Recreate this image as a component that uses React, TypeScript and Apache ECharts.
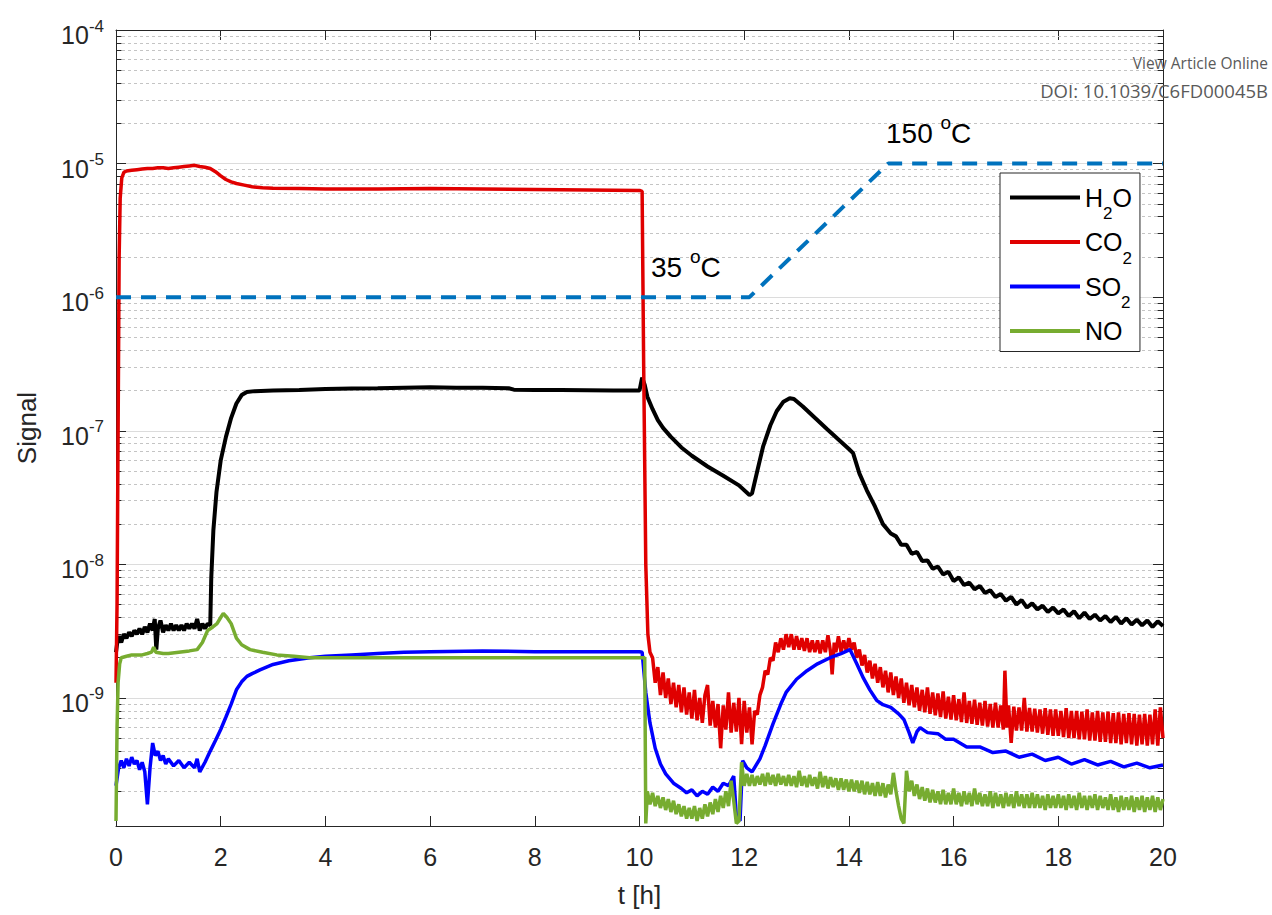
import React, { useEffect, useRef } from "react";
import * as echarts from "echarts";

const FONT = "'Liberation Sans', Arial, Helvetica, sans-serif";
const AXIS_COLOR = "#262626";

// ---- axis settings ----
const X_MIN = 0;
const X_MAX = 20;
const X_INTERVAL = 2;
const Y_MIN = 1.1e-10;
const Y_MAX = 1e-4;

// ---- data: [t (h), signal] ----
const h2o: number[][] = [
  [0, 2.2e-9], [0.03, 2.7e-9], [0.06, 2.9e-9], [0.1, 2.6e-9], [0.15, 3.0e-9], [0.2, 2.8e-9],
  [0.25, 3.1e-9], [0.3, 2.9e-9], [0.35, 3.2e-9], [0.4, 3.0e-9], [0.45, 3.3e-9], [0.5, 3.0e-9],
  [0.55, 3.4e-9], [0.6, 3.1e-9], [0.65, 3.6e-9], [0.7, 3.2e-9], [0.74, 3.9e-9], [0.77, 2.3e-9],
  [0.8, 3.3e-9], [0.85, 3.8e-9], [0.9, 3.1e-9], [0.95, 3.5e-9], [1.0, 3.2e-9], [1.05, 3.6e-9],
  [1.1, 3.2e-9], [1.15, 3.5e-9], [1.2, 3.2e-9], [1.25, 3.5e-9], [1.3, 3.2e-9], [1.35, 3.6e-9],
  [1.4, 3.3e-9], [1.45, 3.6e-9], [1.5, 3.3e-9], [1.55, 3.9e-9], [1.6, 3.2e-9], [1.65, 3.6e-9],
  [1.7, 3.3e-9], [1.75, 3.6e-9], [1.8, 3.5e-9], [1.82, 8e-9], [1.86, 1.8e-8], [1.92, 3.5e-8],
  [2.0, 6e-8], [2.1, 9e-8], [2.2, 1.25e-7], [2.3, 1.6e-7], [2.4, 1.85e-7], [2.5, 1.95e-7],
  [2.65, 1.98e-7], [3.0, 2.0e-7], [3.5, 2.02e-7], [4.0, 2.05e-7], [4.5, 2.07e-7], [5.0, 2.08e-7],
  [5.5, 2.1e-7], [6.0, 2.12e-7], [6.5, 2.1e-7], [7.0, 2.1e-7], [7.5, 2.08e-7], [7.6, 2.03e-7],
  [8.0, 2.02e-7], [8.5, 2.02e-7], [9.0, 2.01e-7], [9.5, 2.0e-7], [10.0, 2.0e-7], [10.05, 2.5e-7],
  [10.1, 2.2e-7], [10.15, 1.8e-7], [10.25, 1.45e-7], [10.35, 1.2e-7], [10.45, 1.05e-7], [10.6, 9e-8],
  [10.8, 7.5e-8], [11.0, 6.5e-8], [11.3, 5.4e-8], [11.6, 4.6e-8], [11.9, 3.9e-8], [12.1, 3.3e-8],
  [12.15, 3.4e-8], [12.25, 5e-8], [12.36, 7.6e-8], [12.5, 1.1e-7], [12.62, 1.4e-7], [12.75, 1.65e-7],
  [12.87, 1.75e-7], [12.95, 1.73e-7], [13.12, 1.52e-7], [13.35, 1.25e-7], [13.58, 1.03e-7], [13.8, 8.6e-8],
  [14.0, 7.3e-8], [14.08, 6.8e-8], [14.2, 4.8e-8], [14.34, 3.6e-8], [14.5, 2.7e-8], [14.65, 2.0e-8],
  [14.8, 1.7e-8], [14.9, 1.62e-8], [15.0, 1.4e-8], [15.1, 1.4e-8], [15.2, 1.2e-8], [15.3, 1.24e-8],
  [15.4, 1.06e-8], [15.5, 1.07e-8], [15.6, 9.3e-9], [15.7, 9.6e-9], [15.8, 8.4e-9], [15.9, 8.8e-9],
  [16.0, 7.5e-9], [16.1, 8.0e-9], [16.2, 7.0e-9], [16.3, 7.3e-9], [16.4, 6.5e-9], [16.5, 6.9e-9],
  [16.6, 6.1e-9], [16.7, 6.4e-9], [16.8, 5.7e-9], [16.9, 6.0e-9], [17.0, 5.35e-9], [17.1, 5.7e-9],
  [17.2, 5.0e-9], [17.3, 5.4e-9], [17.4, 4.75e-9], [17.5, 5.1e-9], [17.6, 4.6e-9], [17.7, 4.9e-9],
  [17.8, 4.4e-9], [17.9, 4.75e-9], [18.0, 4.3e-9], [18.1, 4.6e-9], [18.2, 4.1e-9], [18.3, 4.45e-9],
  [18.4, 3.95e-9], [18.5, 4.35e-9], [18.6, 3.9e-9], [18.7, 4.2e-9], [18.8, 3.8e-9], [18.9, 4.1e-9],
  [19.0, 3.7e-9], [19.1, 4.05e-9], [19.2, 3.6e-9], [19.3, 3.95e-9], [19.4, 3.55e-9], [19.5, 3.85e-9],
  [19.6, 3.5e-9], [19.7, 3.8e-9], [19.8, 3.4e-9], [19.9, 3.75e-9], [20.0, 3.45e-9],
];

const co2: number[][] = [
  [0, 1.3e-9], [0.02, 5e-9], [0.04, 1e-7], [0.06, 2e-6], [0.08, 5.5e-6], [0.11, 7.8e-6],
  [0.15, 8.6e-6], [0.2, 8.8e-6], [0.3, 8.9e-6], [0.4, 9.0e-6], [0.5, 9.1e-6], [0.6, 9.2e-6],
  [0.7, 9.2e-6], [0.8, 9.3e-6], [0.9, 9.3e-6], [1.0, 9.2e-6], [1.1, 9.3e-6], [1.2, 9.4e-6],
  [1.3, 9.5e-6], [1.4, 9.6e-6], [1.5, 9.7e-6], [1.6, 9.5e-6], [1.7, 9.4e-6], [1.8, 9.2e-6],
  [1.9, 8.7e-6], [2.0, 8.1e-6], [2.1, 7.6e-6], [2.2, 7.3e-6], [2.3, 7.1e-6], [2.45, 6.9e-6],
  [2.6, 6.7e-6], [2.8, 6.6e-6], [3.0, 6.55e-6], [3.5, 6.5e-6], [4, 6.45e-6], [5, 6.45e-6],
  [6, 6.5e-6], [7, 6.45e-6], [8, 6.4e-6], [9, 6.35e-6], [10, 6.3e-6], [10.05, 6.2e-6],
  [10.08, 3e-7], [10.12, 1e-8], [10.16, 3e-9], [10.2, 2.2e-9],
  [10.25, 2.0e-9], [10.3, 1.3e-9], [10.35, 1.7e-9], [10.4, 1.05e-9], [10.45, 1.55e-9], [10.5, 1.0e-9],
  [10.55, 1.4e-9], [10.6, 0.9e-9], [10.65, 1.3e-9], [10.7, 0.85e-9], [10.75, 1.25e-9], [10.8, 0.78e-9],
  [10.85, 1.2e-9], [10.9, 0.75e-9], [10.95, 1.1e-9], [11.0, 0.7e-9], [11.05, 1.15e-9], [11.1, 0.68e-9],
  [11.15, 1.0e-9], [11.2, 0.65e-9], [11.25, 1.05e-9], [11.3, 1.25e-9], [11.35, 0.62e-9], [11.4, 0.95e-9],
  [11.45, 0.6e-9], [11.5, 0.9e-9], [11.55, 0.42e-9], [11.6, 0.88e-9], [11.65, 0.58e-9], [11.7, 1.1e-9],
  [11.75, 0.55e-9], [11.8, 0.92e-9], [11.85, 0.56e-9], [11.9, 1.0e-9], [11.95, 0.45e-9], [12.0, 0.95e-9],
  [12.05, 0.55e-9], [12.1, 0.85e-9], [12.15, 0.45e-9], [12.2, 0.8e-9], [12.25, 0.75e-9], [12.3, 1.05e-9],
  [12.35, 1.2e-9], [12.4, 1.6e-9], [12.45, 1.5e-9], [12.5, 2.0e-9], [12.55, 1.9e-9], [12.6, 2.6e-9],
  [12.65, 2.2e-9], [12.7, 2.8e-9], [12.75, 2.3e-9], [12.8, 3.0e-9], [12.85, 2.4e-9], [12.9, 3.0e-9],
  [12.95, 2.3e-9], [13.0, 2.9e-9], [13.05, 2.3e-9], [13.1, 2.8e-9], [13.15, 2.25e-9], [13.2, 2.8e-9],
  [13.25, 2.2e-9], [13.3, 2.7e-9], [13.35, 2.2e-9], [13.4, 2.7e-9], [13.45, 2.15e-9], [13.5, 2.7e-9],
  [13.55, 2.2e-9], [13.6, 2.95e-9], [13.65, 2.2e-9], [13.68, 1.5e-9], [13.72, 2.6e-9], [13.75, 2.2e-9],
  [13.8, 2.9e-9], [13.85, 2.2e-9], [13.9, 2.7e-9], [13.95, 2.25e-9], [14.0, 2.8e-9], [14.05, 2.3e-9],
  [14.1, 2.6e-9], [14.15, 2.0e-9], [14.2, 2.3e-9], [14.25, 1.75e-9], [14.3, 2.1e-9], [14.35, 1.55e-9],
  [14.4, 1.9e-9], [14.45, 1.4e-9], [14.5, 1.8e-9], [14.55, 1.3e-9], [14.6, 1.7e-9], [14.65, 1.2e-9],
  [14.7, 1.6e-9], [14.75, 1.1e-9], [14.8, 1.55e-9], [14.85, 1.05e-9], [14.9, 1.45e-9], [14.95, 1.0e-9],
  [15.0, 1.4e-9], [15.05, 0.92e-9], [15.1, 1.3e-9], [15.15, 0.88e-9], [15.2, 1.25e-9], [15.25, 0.85e-9],
  [15.3, 1.2e-9], [15.35, 0.8e-9], [15.4, 1.15e-9], [15.45, 0.78e-9], [15.5, 1.2e-9], [15.55, 0.76e-9],
  [15.6, 1.1e-9], [15.65, 0.74e-9], [15.7, 1.08e-9], [15.75, 0.72e-9], [15.8, 1.12e-9], [15.85, 0.7e-9],
  [15.9, 1.02e-9], [15.95, 0.69e-9], [16.0, 1.05e-9], [16.05, 0.68e-9], [16.1, 0.98e-9], [16.15, 0.66e-9],
  [16.2, 1.1e-9], [16.25, 0.65e-9], [16.3, 0.95e-9], [16.35, 0.64e-9], [16.4, 0.97e-9], [16.45, 0.63e-9],
  [16.5, 0.92e-9], [16.55, 0.62e-9], [16.6, 0.95e-9], [16.65, 0.61e-9], [16.7, 0.9e-9], [16.75, 0.6e-9],
  [16.8, 0.92e-9], [16.85, 0.6e-9], [16.9, 0.88e-9], [16.95, 0.58e-9], [16.98, 1.6e-9], [17.02, 0.6e-9],
  [17.05, 0.88e-9], [17.1, 0.46e-9], [17.15, 0.86e-9], [17.2, 0.57e-9], [17.25, 0.85e-9], [17.3, 0.57e-9],
  [17.35, 1.0e-9], [17.4, 0.56e-9], [17.45, 0.84e-9], [17.5, 0.56e-9], [17.55, 0.83e-9], [17.6, 0.55e-9],
  [17.65, 0.82e-9], [17.7, 0.54e-9], [17.75, 0.84e-9], [17.8, 0.53e-9], [17.85, 0.82e-9], [17.9, 0.52e-9],
  [17.95, 0.82e-9], [18.0, 0.52e-9], [18.05, 0.8e-9], [18.1, 0.51e-9], [18.15, 0.84e-9], [18.2, 0.5e-9],
  [18.25, 0.8e-9], [18.3, 0.5e-9], [18.35, 0.8e-9], [18.4, 0.49e-9], [18.45, 0.79e-9], [18.5, 0.49e-9],
  [18.55, 0.82e-9], [18.6, 0.48e-9], [18.65, 0.78e-9], [18.7, 0.48e-9], [18.75, 0.8e-9], [18.8, 0.47e-9],
  [18.85, 0.78e-9], [18.9, 0.47e-9], [18.95, 0.79e-9], [19.0, 0.46e-9], [19.05, 0.77e-9], [19.1, 0.46e-9],
  [19.15, 0.78e-9], [19.2, 0.45e-9], [19.25, 0.76e-9], [19.3, 0.46e-9], [19.35, 0.77e-9], [19.4, 0.45e-9],
  [19.45, 0.76e-9], [19.5, 0.44e-9], [19.55, 0.75e-9], [19.6, 0.45e-9], [19.65, 0.76e-9], [19.7, 0.44e-9],
  [19.75, 0.75e-9], [19.8, 0.45e-9], [19.85, 0.82e-9], [19.9, 0.44e-9], [19.95, 0.85e-9], [20.0, 0.5e-9],
];

const so2: number[][] = [
  [0, 2.2e-10], [0.05, 3.0e-10], [0.1, 3.4e-10], [0.15, 3.0e-10], [0.2, 3.5e-10], [0.25, 3.1e-10],
  [0.3, 3.6e-10], [0.35, 3.2e-10], [0.4, 3.4e-10], [0.45, 2.9e-10], [0.5, 3.3e-10], [0.55, 2.8e-10],
  [0.6, 1.6e-10], [0.65, 3.0e-10], [0.7, 4.6e-10], [0.75, 3.7e-10], [0.8, 4.0e-10], [0.85, 3.4e-10],
  [0.9, 3.7e-10], [0.95, 3.2e-10], [1.0, 3.5e-10], [1.1, 3.1e-10], [1.2, 3.4e-10], [1.3, 3.0e-10],
  [1.4, 3.3e-10], [1.5, 3.0e-10], [1.55, 3.5e-10], [1.6, 2.8e-10], [1.7, 3.3e-10], [1.8, 4.0e-10],
  [1.9, 4.8e-10], [2.0, 5.8e-10], [2.1, 7.2e-10], [2.2, 9.0e-10], [2.3, 1.15e-9], [2.4, 1.32e-9],
  [2.5, 1.45e-9], [2.6, 1.52e-9], [2.75, 1.62e-9], [3.0, 1.78e-9], [3.3, 1.9e-9], [3.7, 2.0e-9],
  [4.0, 2.05e-9], [4.5, 2.1e-9], [5.0, 2.15e-9], [5.5, 2.2e-9], [6.0, 2.22e-9], [7.0, 2.25e-9],
  [8.0, 2.22e-9], [9.0, 2.22e-9], [10.0, 2.22e-9], [10.05, 2.2e-9], [10.12, 1.1e-9], [10.2, 6.5e-10],
  [10.3, 4.2e-10], [10.4, 3.2e-10], [10.5, 2.7e-10], [10.65, 2.3e-10], [10.8, 2.1e-10], [10.9, 1.95e-10],
  [11.0, 2.05e-10], [11.1, 1.85e-10], [11.2, 2.0e-10], [11.3, 1.9e-10], [11.4, 2.15e-10], [11.5, 2.0e-10],
  [11.6, 2.3e-10], [11.7, 2.2e-10], [11.8, 2.6e-10], [11.85, 1.3e-10], [11.92, 1.2e-10], [11.97, 3.4e-10],
  [12.05, 3.0e-10], [12.15, 2.8e-10], [12.3, 3.5e-10], [12.4, 4.4e-10], [12.55, 6.4e-10], [12.7, 9e-10],
  [12.8, 1.1e-9], [13.0, 1.38e-9], [13.2, 1.6e-9], [13.4, 1.8e-9], [13.64, 2.0e-9], [13.85, 2.15e-9],
  [14.02, 2.3e-9], [14.15, 1.8e-9], [14.28, 1.4e-9], [14.4, 1.15e-9], [14.53, 9.6e-10], [14.65, 8.9e-10],
  [14.8, 8.5e-10], [14.95, 7.6e-10], [15.05, 6.9e-10], [15.15, 5.5e-10], [15.22, 4.6e-10], [15.3, 5.6e-10],
  [15.36, 6.0e-10], [15.5, 5.5e-10], [15.7, 5.4e-10], [15.85, 4.9e-10], [16.0, 4.9e-10], [16.25, 4.3e-10],
  [16.5, 4.3e-10], [16.75, 3.9e-10], [17.0, 4.0e-10], [17.25, 3.6e-10], [17.5, 3.8e-10], [17.75, 3.4e-10],
  [18.0, 3.6e-10], [18.25, 3.2e-10], [18.5, 3.45e-10], [18.75, 3.15e-10], [19.0, 3.35e-10], [19.25, 3.05e-10],
  [19.5, 3.25e-10], [19.75, 3.0e-10], [20.0, 3.15e-10],
];

const no: number[][] = [
  [0, 1.2e-10], [0.02, 6e-10], [0.04, 1.3e-9], [0.07, 1.8e-9], [0.1, 2.0e-9], [0.2, 2.05e-9],
  [0.3, 2.1e-9], [0.4, 2.1e-9], [0.5, 2.1e-9], [0.6, 2.15e-9], [0.68, 2.2e-9], [0.72, 2.4e-9],
  [0.76, 2.2e-9], [0.9, 2.15e-9], [1.0, 2.15e-9], [1.2, 2.2e-9], [1.4, 2.25e-9], [1.55, 2.3e-9],
  [1.65, 2.6e-9], [1.75, 3.2e-9], [1.85, 3.4e-9], [1.93, 3.6e-9], [2.0, 4.0e-9], [2.05, 4.3e-9],
  [2.12, 4.0e-9], [2.2, 3.6e-9], [2.3, 2.8e-9], [2.4, 2.5e-9], [2.56, 2.3e-9], [2.8, 2.2e-9],
  [3.07, 2.1e-9], [3.4, 2.05e-9], [3.7, 2.0e-9], [5, 2.0e-9], [7, 2.0e-9], [10.1, 2.0e-9],
  [10.12, 1.15e-10], [10.15, 2.0e-10], [10.2, 1.6e-10], [10.25, 1.95e-10], [10.3, 1.55e-10], [10.35, 1.85e-10],
  [10.4, 1.5e-10], [10.45, 1.8e-10], [10.5, 1.45e-10], [10.55, 1.75e-10], [10.6, 1.4e-10], [10.65, 1.7e-10],
  [10.7, 1.35e-10], [10.75, 1.6e-10], [10.8, 1.3e-10], [10.85, 1.55e-10], [10.9, 1.25e-10], [10.95, 1.5e-10],
  [11.0, 1.25e-10], [11.05, 1.55e-10], [11.1, 1.2e-10], [11.15, 1.5e-10], [11.2, 1.25e-10], [11.25, 1.6e-10],
  [11.3, 1.3e-10], [11.35, 1.65e-10], [11.4, 1.35e-10], [11.45, 1.75e-10], [11.5, 1.4e-10], [11.55, 1.85e-10],
  [11.6, 1.5e-10], [11.65, 2.0e-10], [11.7, 1.55e-10], [11.75, 2.4e-10], [11.8, 1.7e-10], [11.85, 1.15e-10],
  [11.9, 1.2e-10], [11.95, 3.3e-10], [12.0, 2.2e-10], [12.05, 2.7e-10], [12.1, 2.2e-10], [12.15, 2.65e-10],
  [12.2, 2.2e-10], [12.25, 2.6e-10], [12.3, 2.25e-10], [12.35, 2.7e-10], [12.4, 2.2e-10], [12.45, 2.75e-10],
  [12.5, 2.25e-10], [12.55, 2.65e-10], [12.6, 2.2e-10], [12.65, 2.7e-10], [12.7, 2.25e-10], [12.75, 2.6e-10],
  [12.8, 2.2e-10], [12.85, 2.65e-10], [12.9, 2.2e-10], [12.95, 2.6e-10], [13.0, 2.15e-10], [13.05, 2.85e-10],
  [13.1, 2.2e-10], [13.15, 2.6e-10], [13.2, 2.15e-10], [13.25, 2.65e-10], [13.3, 2.2e-10], [13.35, 2.55e-10],
  [13.4, 2.1e-10], [13.45, 2.8e-10], [13.5, 2.15e-10], [13.55, 2.6e-10], [13.6, 2.1e-10], [13.65, 2.55e-10],
  [13.7, 2.15e-10], [13.75, 2.5e-10], [13.8, 2.05e-10], [13.85, 2.5e-10], [13.9, 2.05e-10], [13.95, 2.45e-10],
  [14.0, 2.0e-10], [14.05, 2.45e-10], [14.1, 2.0e-10], [14.15, 2.4e-10], [14.2, 1.95e-10], [14.25, 2.4e-10],
  [14.3, 1.9e-10], [14.35, 2.35e-10], [14.4, 1.9e-10], [14.45, 2.3e-10], [14.5, 1.85e-10], [14.55, 2.35e-10],
  [14.6, 1.85e-10], [14.65, 2.3e-10], [14.7, 1.8e-10], [14.75, 2.25e-10], [14.8, 1.9e-10], [14.85, 2.75e-10],
  [14.9, 2.0e-10], [14.95, 1.55e-10], [15.0, 1.25e-10], [15.05, 1.15e-10], [15.1, 2.85e-10], [15.15, 2.0e-10],
  [15.2, 2.4e-10], [15.25, 1.85e-10], [15.3, 2.25e-10], [15.35, 1.75e-10], [15.4, 2.15e-10], [15.45, 1.7e-10],
  [15.5, 2.1e-10], [15.55, 1.65e-10], [15.6, 2.05e-10], [15.65, 1.65e-10], [15.7, 2.0e-10], [15.75, 1.6e-10],
  [15.8, 2.05e-10], [15.85, 1.6e-10], [15.9, 1.95e-10], [15.95, 1.6e-10], [16.0, 2.1e-10], [16.05, 1.6e-10],
  [16.1, 1.95e-10], [16.15, 1.55e-10], [16.2, 2.0e-10], [16.25, 1.6e-10], [16.3, 1.95e-10], [16.35, 1.55e-10],
  [16.4, 2.1e-10], [16.45, 1.6e-10], [16.5, 1.95e-10], [16.55, 1.55e-10], [16.6, 1.9e-10], [16.65, 1.55e-10],
  [16.7, 2.0e-10], [16.75, 1.5e-10], [16.8, 1.95e-10], [16.85, 1.55e-10], [16.9, 1.9e-10], [16.95, 1.5e-10],
  [17.0, 1.95e-10], [17.05, 1.55e-10], [17.1, 1.9e-10], [17.15, 1.5e-10], [17.2, 2.0e-10], [17.25, 1.55e-10],
  [17.3, 1.9e-10], [17.35, 1.5e-10], [17.4, 1.9e-10], [17.45, 1.5e-10], [17.5, 1.95e-10], [17.55, 1.5e-10],
  [17.6, 1.9e-10], [17.65, 1.5e-10], [17.7, 1.85e-10], [17.75, 1.45e-10], [17.8, 1.9e-10], [17.85, 1.5e-10],
  [17.9, 1.85e-10], [17.95, 1.5e-10], [18.0, 1.9e-10], [18.05, 1.5e-10], [18.1, 1.85e-10], [18.15, 1.45e-10],
  [18.2, 1.9e-10], [18.25, 1.5e-10], [18.3, 1.85e-10], [18.35, 1.45e-10], [18.4, 1.95e-10], [18.45, 1.5e-10],
  [18.5, 1.85e-10], [18.55, 1.45e-10], [18.6, 1.85e-10], [18.65, 1.5e-10], [18.7, 1.9e-10], [18.75, 1.45e-10],
  [18.8, 1.85e-10], [18.85, 1.5e-10], [18.9, 1.8e-10], [18.95, 1.45e-10], [19.0, 1.9e-10], [19.05, 1.45e-10],
  [19.1, 1.8e-10], [19.15, 1.4e-10], [19.2, 1.85e-10], [19.25, 1.45e-10], [19.3, 1.8e-10], [19.35, 1.45e-10],
  [19.4, 1.85e-10], [19.45, 1.4e-10], [19.5, 1.8e-10], [19.55, 1.45e-10], [19.6, 1.85e-10], [19.65, 1.4e-10],
  [19.7, 1.8e-10], [19.75, 1.45e-10], [19.8, 1.85e-10], [19.85, 1.4e-10], [19.9, 1.8e-10], [19.95, 1.45e-10],
  [20.0, 1.75e-10],
];

// temperature program (35 °C -> 150 °C), drawn on the signal axis
const tempT = [0, 12.1, 14.75, 20];
const tempV = [1e-6, 1e-6, 1e-5, 1e-5];

const seriesNames = ["H2O", "CO2", "SO2", "NO"];
const seriesColors = ["#000000", "#e00000", "#0000ff", "#77ac30"];
const seriesWidths = [4, 3.5, 3.5, 3.5];
const legendLabels: Record<string, string> = {
  H2O: "{n|H}{s|2}{n|O}",
  CO2: "{n|CO}{s|2}",
  SO2: "{n|SO}{s|2}",
  NO: "{n|NO}",
};

// minor log grid levels (2..9 × 10^k)
const minorLevels: number[] = [];
for (let k = -10; k <= -5; k++) {
  for (let m = 2; m <= 9; m++) {
    const v = m * Math.pow(10, k);
    if (v > Y_MIN && v < Y_MAX) minorLevels.push(v);
  }
}

function buildOption(): any {
  const tickLen = 0.105;
  const minorGridData = minorLevels.map((v) => ({ coords: [[X_MIN, v], [X_MAX, v]] }));
  const minorTickData: any[] = [];
  minorLevels.forEach((v) => {
    minorTickData.push({ coords: [[X_MIN, v], [X_MIN + tickLen, v]] });
    minorTickData.push({ coords: [[X_MAX - tickLen, v], [X_MAX, v]] });
  });

  const datasets = [h2o, co2, so2, no];
  const dataSeries = datasets.map((d, i) => ({
    type: "line",
    name: seriesNames[i],
    data: d,
    symbol: "none",
    showSymbol: false,
    color: seriesColors[i],
    lineStyle: { color: seriesColors[i], width: seriesWidths[i] },
    itemStyle: { color: seriesColors[i] },
    z: 3 + i,
    silent: true,
  }));

  const yLabelRich = {
    b: { fontSize: 25, lineHeight: 25, verticalAlign: "top", padding: [5, 0, 0, 0], fontFamily: FONT, color: AXIS_COLOR },
    s: { fontSize: 17, lineHeight: 17, verticalAlign: "top", fontFamily: FONT, color: AXIS_COLOR },
  };
  const expFormatter = (v: number) => {
    const e = Math.round(Math.log10(v));
    return `{b|10}{s|${e}}`;
  };

  const annRich = {
    n: { fontSize: 28, lineHeight: 28, verticalAlign: "top", padding: [6, 0, 0, 0], fontFamily: FONT, fill: "#000", color: "#000" },
    s: { fontSize: 19, lineHeight: 19, verticalAlign: "top", fontFamily: FONT, fill: "#000", color: "#000" },
  };

  return {
    animation: false,
    backgroundColor: "#ffffff",
    textStyle: { fontFamily: FONT },
    grid: { left: 116, right: 109, top: 30, bottom: 89, containLabel: false },
    legend: {
      show: true,
      data: seriesNames,
      orient: "vertical",
      left: 1000,
      top: 173,
      icon: "rect",
      itemWidth: 70,
      itemHeight: 4,
      itemGap: 7.5,
      padding: [12, 8, 8, 10],
      borderColor: AXIS_COLOR,
      borderWidth: 1,
      backgroundColor: "#ffffff",
      selectedMode: false,
      formatter: (name: string) => legendLabels[name] || name,
      textStyle: {
        color: "#000",
        fontFamily: FONT,
        fontSize: 25,
        rich: {
          n: { fontSize: 25, lineHeight: 25, verticalAlign: "top", fontFamily: FONT, color: "#000" },
          s: { fontSize: 17, lineHeight: 17, verticalAlign: "top", padding: [20, 0, 0, 0], fontFamily: FONT, color: "#000" },
        },
      },
    },
    xAxis: [
      {
        type: "value",
        min: X_MIN,
        max: X_MAX,
        interval: X_INTERVAL,
        position: "bottom",
        name: "t [h]",
        nameLocation: "middle",
        nameGap: 56,
        nameTextStyle: { fontSize: 26, color: AXIS_COLOR, fontFamily: FONT },
        axisLine: { show: true, onZero: false, lineStyle: { color: AXIS_COLOR, width: 1 } },
        axisTick: { show: true, inside: true, length: 10, lineStyle: { color: AXIS_COLOR } },
        axisLabel: { fontSize: 25, color: AXIS_COLOR, fontFamily: FONT, margin: 18 },
        splitLine: { show: false },
      },
      {
        type: "value",
        min: X_MIN,
        max: X_MAX,
        interval: X_INTERVAL,
        position: "top",
        axisLine: { show: true, onZero: false, lineStyle: { color: AXIS_COLOR, width: 1 } },
        axisTick: { show: true, inside: true, length: 10, lineStyle: { color: AXIS_COLOR } },
        axisLabel: { show: false },
        splitLine: { show: false },
      },
    ],
    yAxis: [
      {
        type: "log",
        logBase: 10,
        min: Y_MIN,
        max: Y_MAX,
        position: "left",
        name: "Signal",
        nameLocation: "middle",
        nameGap: 76,
        nameTextStyle: { fontSize: 26, color: AXIS_COLOR, fontFamily: FONT },
        axisLine: { show: true, onZero: false, lineStyle: { color: AXIS_COLOR, width: 1 } },
        axisTick: { show: true, inside: true, length: 10, lineStyle: { color: AXIS_COLOR } },
        axisLabel: { formatter: expFormatter, rich: yLabelRich, margin: 12, showMinLabel: false },
        splitLine: { show: true, lineStyle: { color: "#dcdcdc", width: 1 } },
      },
      {
        type: "log",
        logBase: 10,
        min: Y_MIN,
        max: Y_MAX,
        position: "right",
        axisLine: { show: true, onZero: false, lineStyle: { color: AXIS_COLOR, width: 1 } },
        axisTick: { show: true, inside: true, length: 10, lineStyle: { color: AXIS_COLOR } },
        axisLabel: { show: false },
        splitLine: { show: false },
      },
    ],
    graphic: [
      {
        type: "text",
        x: 651,
        y: 261,
        z: 10,
        style: { text: "{n|35 }{s|o}{n|C}", rich: annRich, verticalAlign: "middle", align: "left", fill: "#000" },
      },
      {
        type: "text",
        x: 886,
        y: 127,
        z: 10,
        style: { text: "{n|150 }{s|o}{n|C}", rich: annRich, verticalAlign: "middle", align: "left", fill: "#000" },
      },
      {
        type: "text",
        x: 1268,
        y: 63,
        z: 10,
        style: { text: "View Article Online", font: "15.5px 'Open Sans', sans-serif", fill: "#5a5a5a", align: "right", verticalAlign: "middle" },
      },
      {
        type: "text",
        x: 1268,
        y: 90,
        z: 10,
        style: { text: "DOI: 10.1039/C6FD00045B", font: "18.5px 'Open Sans', sans-serif", fill: "#5a5a5a", align: "right", verticalAlign: "middle" },
      },
    ],
    series: [
      {
        type: "lines",
        name: "minorGrid",
        coordinateSystem: "cartesian2d",
        xAxisIndex: 0,
        yAxisIndex: 0,
        polyline: false,
        silent: true,
        z: 1,
        lineStyle: { type: [3, 3], color: "#c4c4c4", width: 1, opacity: 1, curveness: 0 },
        data: minorGridData,
      },
      {
        type: "lines",
        name: "minorTicks",
        coordinateSystem: "cartesian2d",
        xAxisIndex: 0,
        yAxisIndex: 0,
        polyline: false,
        silent: true,
        z: 2,
        lineStyle: { type: "solid", color: AXIS_COLOR, width: 1, opacity: 1, curveness: 0 },
        data: minorTickData,
      },
      ...dataSeries,
      {
        type: "line",
        name: "Temperature",
        data: tempT.map((t, i) => [t, tempV[i]]),
        symbol: "none",
        lineStyle: { color: "#0072bd", width: 4, type: [15, 10] },
        z: 8,
        silent: true,
      },
    ],
  };
}

export default function App() {
  const ref = useRef<HTMLDivElement>(null);
  useEffect(() => {
    if (!ref.current) return;
    const chart = echarts.init(ref.current, undefined, { renderer: "svg" });
    chart.setOption(buildOption());
    return () => chart.dispose();
  }, []);
  return (
    <div
      ref={ref}
      style={{ position: "absolute", left: 0, top: 0, width: 1272, height: 915, background: "#fff" }}
    />
  );
}
